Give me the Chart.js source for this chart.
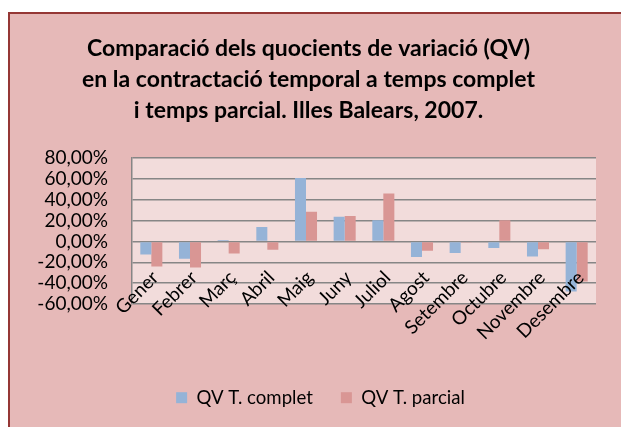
<!DOCTYPE html>
<html>
<head>
<meta charset="utf-8">
<script src="https://cdn.jsdelivr.net/npm/chart.js@4"></script>
<style>
  html, body { margin: 0; padding: 0; background: #fff; }
</style>
</head>
<body>
<canvas id="qvChart" width="621" height="427"></canvas>
<script>
// months of 2007
var months = ['Gener', 'Febrer', 'Març', 'Abril', 'Maig', 'Juny', 'Juliol', 'Agost', 'Setembre', 'Octubre', 'Novembre', 'Desembre'];
// quocients de variació, in %
var qvComplet = [-12.5, -16.5, 1.5, 14, 61, 23.8, 20.4, -15, -11, -6.3, -14.4, -48];
var qvParcial = [-24, -25, -11.5, -8, 28.5, 24.4, 46, -9, -0.5, 20.4, -7.5, -38.5];
// y axis range
var yMin = -60;
var yMax = 80;
var yStep = 20;

var titleLines = [
    'Comparació dels quocients de variació (QV)',
    'en la contractació temporal a temps complet',
    'i temps parcial. Illes Balears, 2007.'
];

/* pink panel behind everything, lighter fill on the plot */
var background = {
    id: 'background',
    afterLayout: function(chart) {
        // Excel keeps the legend a bit right of the title centre
        chart.legend.left += 12;
        chart.legend.right += 12;
    },
    beforeDraw: function(chart) {
        var ctx = chart.ctx;
        var area = chart.chartArea;
        ctx.save();
        ctx.fillStyle = '#fff';
        ctx.fillRect(0, 0, chart.width, chart.height);
        ctx.fillStyle = '#E6B9B8';
        ctx.fillRect(8, 12, chart.width, chart.height);
        ctx.strokeStyle = '#953735';
        ctx.lineWidth = 2;
        ctx.beginPath();
        ctx.moveTo(9, chart.height);
        ctx.lineTo(9, 13);
        ctx.lineTo(chart.width, 13);
        ctx.stroke();
        ctx.fillStyle = '#F2DCDB';
        ctx.fillRect(area.left, area.top, area.right - area.left, area.bottom - area.top);
        ctx.restore();
    }
};

var ctx = document.getElementById('qvChart').getContext('2d');
var chart = new Chart(ctx, {
    type: 'bar',
    data: {
        labels: months,
        datasets: [{
            label: 'QV T. complet',
            backgroundColor: '#95B3D7',
            data: qvComplet
        }, {
            label: 'QV T. parcial',
            backgroundColor: '#D99694',
            data: qvParcial
        }]
    },
    options: {
        responsive: false,
        animation: false,
        devicePixelRatio: 1,
        datasets: {
            bar: { categoryPercentage: 0.57, barPercentage: 1 }
        },
        layout: {
            padding: { left: 21, right: 25, top: 0, bottom: 10 }
        },
        scales: {
            x: {
                // labels hang under the zero line like in Excel
                position: { y: 0 },
                grid: { display: false, drawTicks: false },
                border: { display: false },
                ticks: {
                    z: 1,
                    color: '#000',
                    font: { family: 'Lato', size: 19 },
                    minRotation: 45,
                    maxRotation: 45,
                    autoSkip: false,
                    padding: 25,
                    labelOffset: 4
                }
            },
            y: {
                min: yMin,
                max: yMax,
                grid: { color: '#868686', lineWidth: 1.5, drawTicks: false },
                border: { color: '#868686', width: 1.5 },
                ticks: {
                    stepSize: yStep,
                    autoSkip: false,
                    color: '#000',
                    padding: 24,
                    font: { family: 'Lato', size: 19 },
                    callback: function(v) { return v.toFixed(2).replace('.', ',') + '%'; }
                },
                afterFit: function(scale) { scale.width = 111; }
            }
        },
        plugins: {
            title: {
                display: true,
                text: titleLines,
                color: '#000',
                font: { family: 'Lato', size: 23, weight: 'bold', lineHeight: 1.35 },
                padding: { top: 33, bottom: 32 }
            },
            legend: {
                position: 'bottom',
                title: {
                    // empty title only opens the gap under the plot
                    display: true,
                    text: '',
                    font: { size: 12 },
                    padding: { top: 42, bottom: 0 }
                },
                labels: {
                    color: '#000',
                    font: { family: 'Lato', size: 18.6 },
                    boxWidth: 11,
                    boxHeight: 11,
                    padding: 28
                }
            },
            tooltip: { enabled: false }
        }
    },
    plugins: [background]
});
</script>
</body>
</html>
